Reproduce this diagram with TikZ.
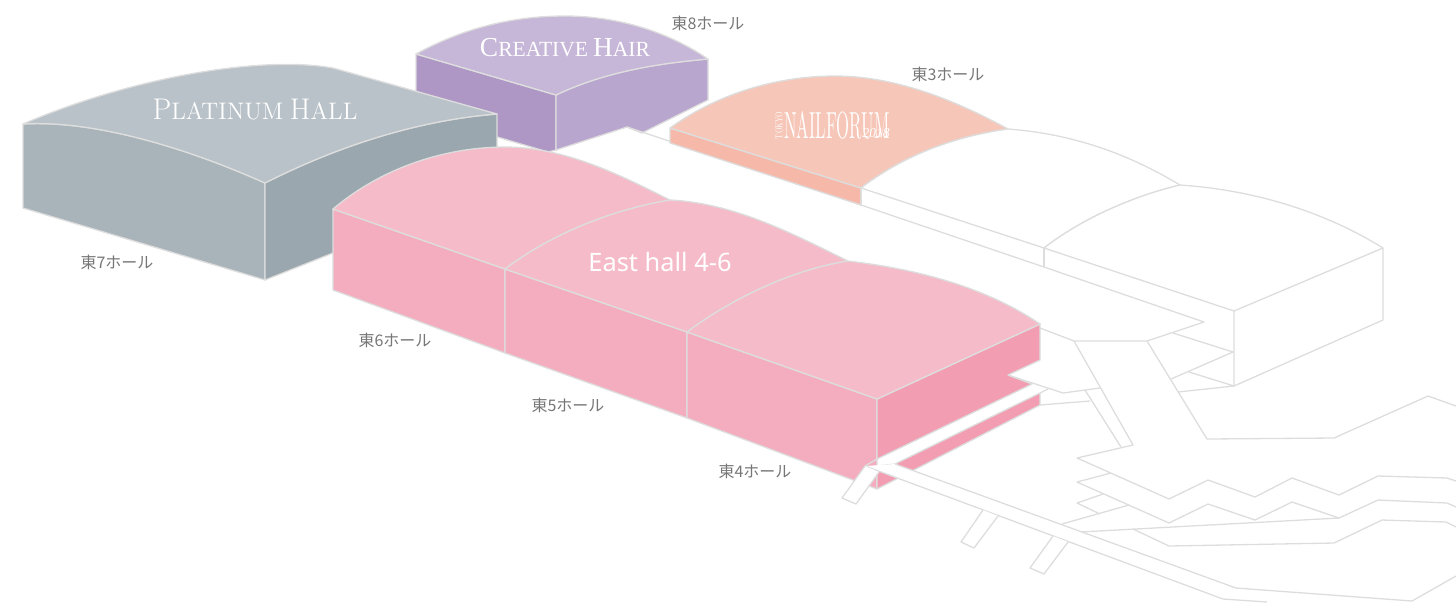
\documentclass[tikz,border=0pt]{standalone}
\usepackage{fontspec}
\usepackage{graphicx}
\setmainfont{Liberation Serif}
\newfontfamily\cjkfont{Noto Sans CJK JP}
\newfontfamily\eastfont{Noto Sans}
\newfontfamily\logofont{Latin Modern Roman}
\newcommand{\bigsmall}[2]{{\fontsize{15}{15}\selectfont #1}{\fontsize{12}{12}\selectfont #2}}
\definecolor{plTop}{HTML}{B9C2C8}
\definecolor{plLeft}{HTML}{A9B4BA}
\definecolor{plRight}{HTML}{9AA7AE}
\definecolor{crTop}{HTML}{C6B6D8}
\definecolor{crLeft}{HTML}{AE97C5}
\definecolor{crRight}{HTML}{B9A6CF}
\definecolor{naTop}{HTML}{F6C7B8}
\definecolor{naSide}{HTML}{F6B9A9}
\definecolor{piTop}{HTML}{F5BBC9}
\definecolor{piLeft}{HTML}{F4ADBE}
\definecolor{piRight}{HTML}{F29DB2}
\definecolor{edge}{HTML}{DDDDDD}
\definecolor{labelgray}{HTML}{767676}
\tikzset{
  x=0.5pt,y=-0.5pt,
  outline/.style={draw=edge,line width=0.65pt,line join=round},
  hall/.style={outline,fill=#1},
  plain/.style={outline,fill=white},
  hallname/.style={text=labelgray,font=\cjkfont\fontsize{8}{8}\selectfont,inner sep=0pt},
  logotext/.style={text=white,inner sep=0pt}
}
\begin{document}
\begin{tikzpicture}
\useasboundingbox (0,0) rectangle (1456,602);
\clip (0,0) rectangle (1456,602);
% Creative Hair
\draw[hall=crLeft] (416,54) -- (556,95) -- (556,150) -- (548,152) -- (416,113) -- cycle;
\draw[hall=crRight] (556,95) .. controls (600,74) and (650,64) .. (708,59) -- (708,100) -- (642,133) -- (627,127) -- (556,150) -- cycle;
\draw[hall=crTop] (416,54) .. controls (465,27) and (515,16) .. (565,16) .. controls (620,16) and (670,33) .. (708,59) .. controls (650,64) and (600,74) .. (556,95) -- cycle;
% Platinum Hall
\draw[hall=plLeft] (23,124) .. controls (90,120) and (180,145) .. (265,183) -- (265,280) -- (23,208) -- cycle;
\draw[hall=plRight] (265,183) .. controls (340,145) and (420,120) .. (497,114) -- (497,160) -- (380,230) -- (333,253) -- (265,280) -- cycle;
\draw[hall=plTop] (23,124) .. controls (130,78) and (260,55) .. (333,68) -- (497,114) .. controls (420,120) and (340,145) .. (265,183) .. controls (180,145) and (90,120) .. (23,124) -- cycle;
% Nail Forum and the empty east halls
\draw[outline] (627,127) -- (861,205);
\draw[hall=naSide] (670,128) -- (861,188) -- (861,205) -- (670,143) -- cycle;
\draw[hall=naTop] (670,128) .. controls (720,92) and (780,76) .. (835,76) .. controls (895,76) and (955,100) .. (1008,129) .. controls (950,137) and (900,158) .. (861,188) -- cycle;
\draw[plain] (861,188) .. controls (900,158) and (950,137) .. (1008,129) .. controls (1075,134) and (1130,155) .. (1180,185) .. controls (1130,197) and (1080,220) .. (1044,248) -- cycle;
\draw[plain] (1044,248) .. controls (1080,220) and (1130,197) .. (1180,185) .. controls (1255,190) and (1325,212) .. (1383,248) -- (1234,311) -- cycle;
\draw[outline] (861,188) -- (861,205) -- (1044,267) -- (1204,322) -- (1147,341) -- (1074,341) -- (1040,328);
\draw[outline] (1044,248) -- (1044,267);
\draw[outline] (1234,311) -- (1234,386) -- (1383,320) -- (1383,248);
\draw[outline] (1173,333) -- (1233,352) -- (1171,379);
\draw[outline] (1189,372) -- (1234,386) -- (1178,392);
\draw[outline] (1147,341) -- (1207,439) -- (1334,438) -- (1428,396) -- (1456,406);
\draw[outline] (1074,341) -- (1133,445) -- (1077,458) -- (1169,499) -- (1208,480) -- (1255,497) -- (1292,478) -- (1339,495) -- (1378,476) -- (1447,478) -- (1456,481);
\draw[outline] (1111,473) -- (1077,482) -- (1169,523) -- (1208,504) -- (1255,520) -- (1292,502) -- (1339,518) -- (1378,500) -- (1447,503) -- (1456,507);
\draw[outline] (1103,494) -- (1077,503) -- (1100,514);
\draw[outline] (1129,505) -- (1062,524);
\draw[outline] (1080,532) -- (1339,518);
\draw[outline] (1133,529) -- (1169,546) -- (1334,543) -- (1382,520) -- (1446,522) -- (1456,527);
\draw[outline] (1085,390) -- (1121,447);
% East hall 4-6
\draw[hall=piLeft] (333,209) -- (505,269) -- (505,353) -- (333,290) -- cycle;
\draw[hall=piLeft] (505,269) -- (687,332) -- (687,418) -- (505,353) -- cycle;
\draw[hall=piLeft] (687,332) -- (877,399) -- (877,489) -- (687,418) -- cycle;
\draw[hall=piRight] (877,399) -- (1040,324) -- (1040,360) -- (1008,375) -- (1032,384) -- (877,459) -- cycle;
\draw[hall=piRight] (895,464) -- (1040,393) -- (1040,405) -- (877,489) -- (877,466) -- cycle;
\draw[hall=piTop] (333,209) .. controls (385,165) and (450,147) .. (505,147) .. controls (565,147) and (620,175) .. (670,200) .. controls (610,210) and (550,235) .. (505,269) -- cycle;
\draw[hall=piTop] (505,269) .. controls (550,235) and (610,210) .. (670,200) .. controls (735,203) and (795,235) .. (848,261) .. controls (790,270) and (730,300) .. (687,332) -- cycle;
\draw[hall=piTop] (687,332) .. controls (730,300) and (790,270) .. (848,261) .. controls (925,270) and (990,290) .. (1040,324) -- (877,399) -- cycle;
% passages beside hall 4
\draw[outline] (1008,375) -- (1063,393) -- (1100,388);
\draw[outline] (1040,393) -- (1048,389);
\draw[outline] (1040,405) -- (1090,401);
% walkway and stairs
\fill[white] (865,466) -- (895,464) -- (1236,588) -- (1412,601) -- (1456,576) -- (1456,602) -- (1267,602) -- (1223,599) -- cycle;
\draw[outline] (877,459) -- (865,466) -- (1223,599) -- (1267,602);
\draw[outline] (895,464) -- (1236,588) -- (1412,601) -- (1456,576);
\draw[plain] (865,466) -- (842,498) -- (856,504) -- (879,472);
\draw[plain] (983,510) -- (961,542) -- (974,548) -- (998,516);
\draw[plain] (1053,536) -- (1030,568) -- (1044,574) -- (1068,542);
% texts
\node[logotext] (platinum) at (255,110) {\resizebox{102.5pt}{!}{\logofont\bigsmall{P}{LATINUM} \bigsmall{H}{ALL}}};
\node[logotext] (creative) at (565,48) {\resizebox{85pt}{!}{{\fontsize{14}{14}\selectfont C}{\fontsize{11}{11}\selectfont REATIVE} {\fontsize{14}{14}\selectfont H}{\fontsize{11}{11}\selectfont AIR}}};
\node[logotext,anchor=west] (nailforum) at (784,125.5) {\resizebox{52.5pt}{13.5pt}{\logofont NAILFORUM}};
\node[logotext,rotate=90] (tokyo) at (779,125.5) {\resizebox{13.5pt}{3.5pt}{\logofont TOKYO}};
\node[logotext] (year) at (876,133) {\resizebox{13.5pt}{4.5pt}{\itshape 2018}};
\node[text=white,inner sep=0pt,font=\eastfont\fontsize{12.7}{12.7}\selectfont] (east) at (660,262) {East hall 4-6};
\node[hallname] (h8) at (708,23) {東8ホール};
\node[hallname] (h3) at (948,74) {東3ホール};
\node[hallname] (h7) at (117,262) {東7ホール};
\node[hallname] (h6) at (395,340) {東6ホール};
\node[hallname] (h5) at (568,405) {東5ホール};
\node[hallname] (h4) at (755,471) {東4ホール};
\end{tikzpicture}
\end{document}
